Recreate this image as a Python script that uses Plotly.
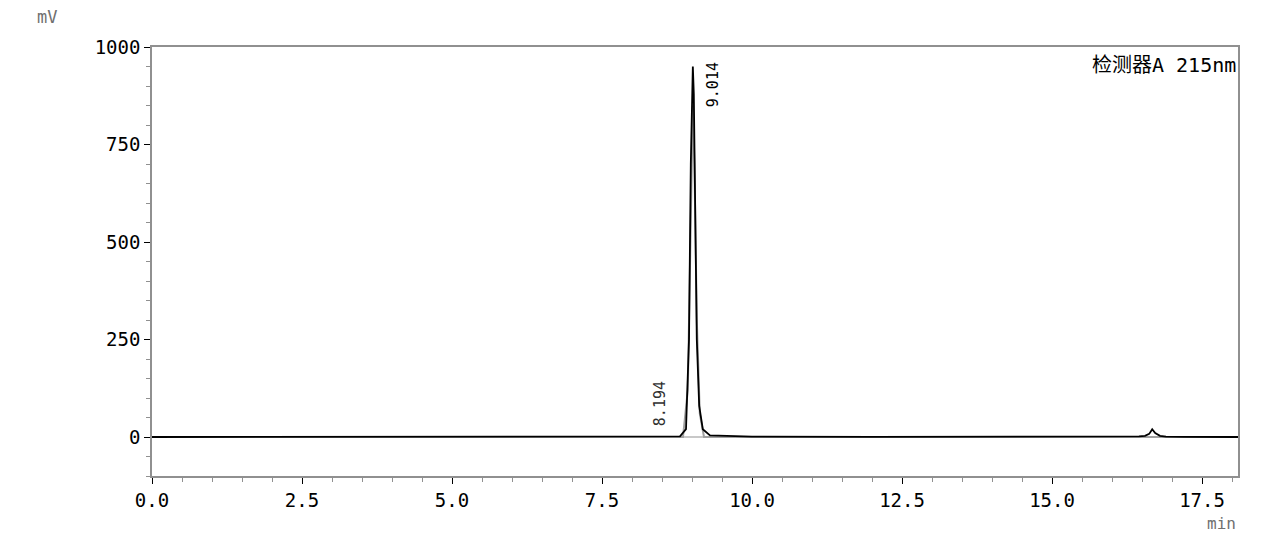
import plotly.graph_objects as go

# Chromatogram (detector A, 215 nm)
time_min = [0.0, 2.0, 4.0, 6.0, 8.0, 8.80, 8.90, 8.95, 8.98, 9.00, 9.014, 9.03, 9.05, 9.08, 9.12, 9.18, 9.30,
            10.0, 12.0, 14.0, 16.0, 16.45, 16.55, 16.62, 16.67, 16.72, 16.80, 16.90, 17.2, 18.1]
signal_mv = [0.0, 0.5, 0.3, 0.5, 1.0, 1.5, 20.0, 250.0, 700.0, 920.0, 950.0, 880.0, 600.0, 250.0, 80.0, 20.0, 4.0,
             1.0, 0.5, 0.5, 0.8, 1.5, 3.0, 8.0, 20.0, 10.0, 3.0, 1.0, 0.5, 0.0]

ref_time = [0.0, 8.85, 8.93, 8.97, 9.00, 9.014, 9.04, 9.08, 9.13, 9.20, 18.1]
ref_mv = [0.0, 0.0, 120.0, 500.0, 800.0, 850.0, 700.0, 300.0, 60.0, 0.0, 0.0]

peak_times = [9.014, 8.194]
peak_labels = ["9.014", "8.194"]
peak_label_y = [967, 23]

x_ticks = [0.0, 2.5, 5.0, 7.5, 10.0, 12.5, 15.0, 17.5]
x_tick_text = ["0.0", "2.5", "5.0", "7.5", "10.0", "12.5", "15.0", "17.5"]
y_ticks = [0, 250, 500, 750, 1000]

mono = "DejaVu Sans Mono"

fig = go.Figure()
fig.add_trace(go.Scatter(x=[0.0, 18.1], y=[0.0, 0.0], mode="lines",
                         line=dict(color="#c8c8c8", width=2), hoverinfo="skip", showlegend=False))
fig.add_trace(go.Scatter(x=ref_time, y=ref_mv, mode="lines",
                         line=dict(color="#a0a0a0", width=2), showlegend=False))
fig.add_trace(go.Scatter(x=time_min, y=signal_mv, mode="lines",
                         line=dict(color="#000000", width=1.8), showlegend=False))

fig.add_annotation(x=peak_times[0], y=peak_label_y[0], text=peak_labels[0], textangle=-90, showarrow=False,
                   xanchor="left", yanchor="top", xshift=10,
                   font=dict(family=mono, size=15, color="#000000"))
fig.add_annotation(x=peak_times[1], y=peak_label_y[1], text=peak_labels[1], textangle=-90, showarrow=False,
                   xanchor="left", yanchor="bottom", xshift=5,
                   font=dict(family=mono, size=15, color="#303030"))

fig.add_annotation(xref="paper", yref="paper", x=1.0, y=1.0, yshift=-4, text="检测器A 215nm",
                   showarrow=False, xanchor="right", yanchor="top",
                   font=dict(family="DejaVu Sans Mono, Noto Sans CJK SC", size=20, color="#000000"))
fig.add_annotation(xref="paper", yref="paper", x=-0.108, y=1.0, yshift=42, text="mV",
                   showarrow=False, xanchor="left", yanchor="top",
                   font=dict(family=mono, size=17, color="#707070"))
fig.add_annotation(xref="paper", yref="paper", x=1.0, y=0, yshift=-36, text="min",
                   showarrow=False, xanchor="right", yanchor="top",
                   font=dict(family=mono, size=16, color="#707070"))

fig.update_xaxes(range=[0, 18.1], tickvals=x_ticks, ticktext=x_tick_text,
                 showgrid=False, zeroline=False, showline=True, linecolor="#909090", linewidth=1.5,
                 mirror=True, ticks="outside", ticklen=6, tickcolor="#000000",
                 minor=dict(dtick=0.5, ticks="outside", ticklen=4, tickcolor="#909090"),
                 tickfont=dict(family=mono, size=19, color="#000000"))
fig.update_yaxes(range=[-100, 1000], tickvals=y_ticks,
                 showgrid=False, zeroline=False, showline=True, linecolor="#909090", linewidth=1.5,
                 mirror=True, ticks="outside", ticklen=6, tickcolor="#000000",
                 minor=dict(dtick=50, ticks="outside", ticklen=4, tickcolor="#909090"),
                 tickfont=dict(family=mono, size=19, color="#000000"))

fig.update_layout(width=1266, height=536, margin=dict(l=144, r=36, t=39, b=68),
                  plot_bgcolor="white", paper_bgcolor="white", showlegend=False)

fig.write_html("out.html")
